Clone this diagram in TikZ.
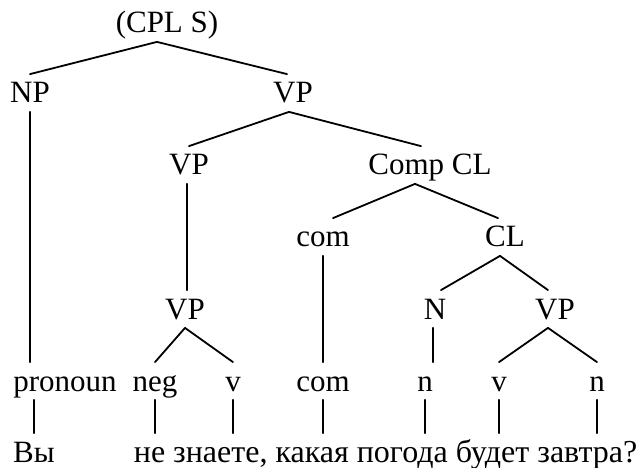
\documentclass[tikz,border=0pt]{standalone}
\usepackage{fontspec}
\setmainfont{Liberation Serif}
\begin{document}
\begin{tikzpicture}[x=1pt,y=-1pt, line width=1.8pt, line join=round, line cap=round,
    font=\fontsize{31}{37}\selectfont,
    cat/.style={anchor=base, inner xsep=2pt, inner ysep=8pt, text height=20pt, text depth=0pt}]
    % baselines of the rows
    \def\ya{33} \def\yb{103} \def\yc{175} \def\yd{247}
    \def\ye{319} \def\yf{391} \def\yg{462}
    \useasboundingbox (0,0) rectangle (638,468);
    \node[cat] (s) at (167,\ya) {(CPL S)};
    \node[cat] (np) at (30,\yb) {NP};
    \node[cat] (vp) at (293,\yb) {VP};
    \node[cat] (vpa) at (189,\yc) {VP};
    \node[cat] (comp) at (430,\yc) {Comp CL};
    \node[cat] (coma) at (323,\yd) {com};
    \node[cat] (cl) at (505,\yd) {CL};
    \node[cat] (vpb) at (185,\ye) {VP};
    \node[cat] (n) at (435,\ye) {N};
    \node[cat] (vpc) at (555,\ye) {VP};
    % word classes
    \node[cat] (pron) at (65,\yf) {pronoun};
    \node[cat] (neg) at (155,\yf) {neg};
    \node[cat] (va) at (233,\yf) {v};
    \node[cat] (comb) at (323,\yf) {com};
    \node[cat] (nb) at (425,\yf) {n};
    \node[cat] (vb) at (499,\yf) {v};
    \node[cat] (nc) at (597,\yf) {n};
    % the sentence
    \node[cat] (vy) at (34,\yg) {Вы};
    \node[cat, anchor=base west, font=\fontsize{32}{38}\selectfont] (words) at (131,\yg)
        {не знаете, какая погода будет завтра?};
    % branches
    \draw ([xshift=-10pt]s.south) -- (np.north);
    \draw ([xshift=-10pt]s.south) -- ([xshift=-6pt]vp.north);
    \draw ([xshift=-4pt]vp.south) -- (vpa.north);
    \draw ([xshift=-4pt]vp.south) -- ([xshift=-9pt]comp.north);
    \draw ([xshift=-15pt]comp.south) -- ([xshift=10pt]coma.north);
    \draw ([xshift=-15pt]comp.south) -- ([xshift=-7pt]cl.north);
    \draw ([xshift=-5pt]cl.south) -- ([xshift=6pt]n.north);
    \draw ([xshift=-5pt]cl.south) -- ([xshift=-7pt]vpc.north);
    \draw ([xshift=-2pt]vpa.south) -- ([xshift=-2pt]vpa.south |- vpb.north);
    \draw (vpb.south) -- (neg.north);
    \draw (vpb.south) -- (va.north);
    \draw ([xshift=-7pt]vpc.south) -- (vb.north);
    \draw ([xshift=-7pt]vpc.south) -- (nc.north);
    \draw (np.south) -- (np.south |- pron.north);
    \draw (coma.south) -- (comb.north);
    \draw ([xshift=-2pt]n.south) -- ([xshift=-2pt]n.south |- nb.north);
    % ticks down to the words
    \draw (vy.north |- pron.south) -- (vy.north);
    \foreach \c in {neg,va,comb,nb,vb,nc}
        \draw (\c.south) -- (\c.south |- words.north);
\end{tikzpicture}
\end{document}
